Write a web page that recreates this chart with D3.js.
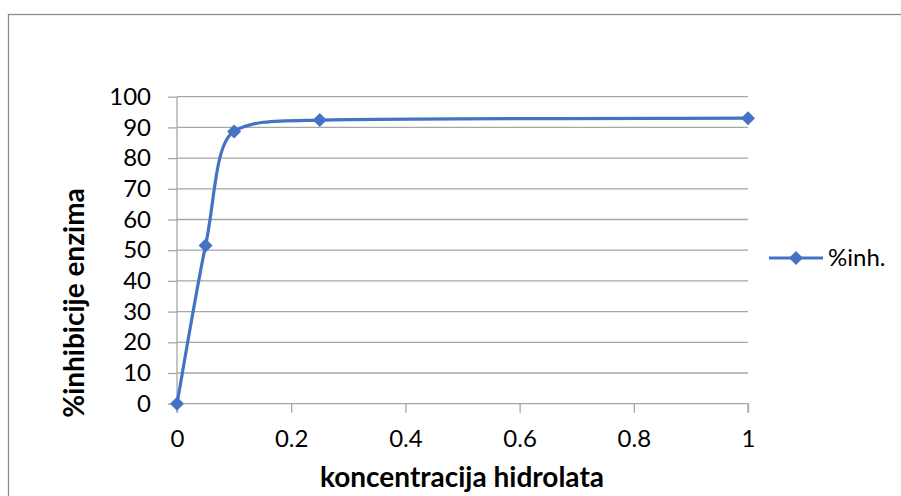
<!DOCTYPE html>
<html><head><meta charset="utf-8">
<script src="https://cdn.jsdelivr.net/npm/d3@7/dist/d3.min.js"></script>
<style>
html,body{margin:0;padding:0;background:#fff;}
svg{display:block;}
text{font-family:Lato,"Open Sans",sans-serif;fill:#000;}
</style></head>
<body>
<svg id="chart" width="901" height="496"></svg>
<script>
// ---- data ----
const concentrations = [0, 0.05, 0.1, 0.25, 1];
const inhibition = [0, 51.5, 88.7, 92.4, 93.0];
const xTicks = [0, 0.2, 0.4, 0.6, 0.8, 1];
const yTicks = [0, 10, 20, 30, 40, 50, 60, 70, 80, 90, 100];
const seriesName = "%inh.";
const xTitle = "koncentracija hidrolata";
const yTitle = "%inhibicije enzima";

const svg = d3.select("#chart");
const W = 901, H = 496;
const plot = {left: 177, right: 748, top: 96.7, bottom: 403.7};
const lineColor = "#4472C4";
const gridColor = "#A6A6A6";
const tickFont = 24, titleFont = 28;

// outer chart border
svg.append("rect").attr("x", 8.5).attr("y", 14.5).attr("width", W).attr("height", H)
  .attr("fill", "none").attr("stroke", "#8C8C8C").attr("stroke-width", 1.3);

const x = d3.scaleLinear().domain([0, 1]).range([plot.left, plot.right]);
const y = d3.scaleLinear().domain([0, 100]).range([plot.bottom, plot.top]);

// gridlines
svg.append("g").selectAll("line").data(yTicks.filter(d => d > 0)).join("line")
  .attr("x1", plot.left).attr("x2", plot.right)
  .attr("y1", d => y(d)).attr("y2", d => y(d))
  .attr("stroke", gridColor).attr("stroke-width", 1.3);

// axes
const yAxis = svg.append("g").attr("transform", `translate(${plot.left},0)`)
  .call(d3.axisLeft(y).tickValues(yTicks).tickSize(9).tickPadding(17).tickFormat(d3.format("d")));
const xAxis = svg.append("g").attr("transform", `translate(0,${plot.bottom})`)
  .call(d3.axisBottom(x).tickValues(xTicks).tickSize(9).tickPadding(17).tickFormat(d => String(d)));
[yAxis, xAxis].forEach(g => {
  g.select(".domain").attr("stroke", gridColor).attr("stroke-width", 1.3);
  g.selectAll(".tick line").attr("stroke", gridColor).attr("stroke-width", 1.3);
  g.selectAll("text").attr("font-family", "Lato, sans-serif").attr("font-size", tickFont).attr("fill", "#000");
});
xAxis.select(".domain").attr("d", `M${plot.left},9V0H${plot.right}V9`);
yAxis.select(".domain").attr("d", `M0,${plot.bottom}V${plot.top}`);

// Excel-like smoothed curve (Bezier, 1/6 tangents, arm limits, no vertical overshoot)
function ExcelCurve(context) { this._context = context; }
ExcelCurve.prototype = {
  areaStart() {}, areaEnd() {},
  lineStart() { this._pts = []; },
  point(px, py) { this._pts.push([+px, +py]); },
  lineEnd() {
    const p = this._pts, n = p.length, c = this._context;
    if (!n) return;
    const dist = (a, b) => Math.hypot(b[0] - a[0], b[1] - a[1]);
    const T = p.map((_, i) => {
      const a = p[i - 1] || p[i], b = p[i + 1] || p[i];
      return [b[0] - a[0], b[1] - a[1]];
    });
    const F1 = [], F2 = [];
    for (let i = 0; i < n - 1; i++) {
      const P0 = p[i - 1] || p[i], P1 = p[i], P2 = p[i + 1], P3 = p[i + 2] || p[i + 1];
      const d12 = dist(P1, P2), d02 = dist(P0, P2), d13 = dist(P1, P3);
      F1[i] = (d02 / 6 >= d12 / 2) ? d12 / (2 * d02) : 1 / 6;
      F2[i] = (d13 / 6 >= d12 / 2) ? d12 / (2 * d13) : 1 / 6;
    }
    // limit vertical component so control points stay within each segment's y-range
    for (let i = 0; i < n; i++) {
      let s = 1;
      if (i < n - 1) {
        const arm = Math.abs(F1[i] * T[i][1]), lim = Math.abs(p[i + 1][1] - p[i][1]);
        if (arm > lim && arm > 0) s = Math.min(s, lim / arm);
      }
      if (i > 0) {
        const arm = Math.abs(F2[i - 1] * T[i][1]), lim = Math.abs(p[i][1] - p[i - 1][1]);
        if (arm > lim && arm > 0) s = Math.min(s, lim / arm);
      }
      T[i][1] *= s;
    }
    c.moveTo(p[0][0], p[0][1]);
    for (let i = 0; i < n - 1; i++) {
      const P1 = p[i], P2 = p[i + 1];
      c.bezierCurveTo(P1[0] + F1[i] * T[i][0], P1[1] + F1[i] * T[i][1],
                      P2[0] - F2[i] * T[i + 1][0], P2[1] - F2[i] * T[i + 1][1],
                      P2[0], P2[1]);
    }
  }
};
const excelCurve = ctx => new ExcelCurve(ctx);

const data = concentrations.map((c, i) => ({x: c, y: inhibition[i]}));
const line = d3.line().x(d => x(d.x)).y(d => y(d.y)).curve(excelCurve);
svg.append("path").datum(data).attr("d", line)
  .attr("fill", "none").attr("stroke", lineColor).attr("stroke-width", 3.2)
  .attr("stroke-linejoin", "round");

const diamond = d3.symbol().type(d3.symbolSquare).size(98);
svg.append("g").selectAll("path").data(data).join("path")
  .attr("d", diamond)
  .attr("transform", d => `translate(${x(d.x)},${y(d.y)}) rotate(45)`)
  .attr("fill", lineColor);

// axis titles
svg.append("text").attr("x", 462).attr("y", 487).attr("text-anchor", "middle")
  .attr("font-weight", "bold").attr("font-size", titleFont).text(xTitle);
svg.append("text").attr("transform", "translate(84,303) rotate(-90)").attr("text-anchor", "middle")
  .attr("font-weight", "bold").attr("font-size", titleFont).text(yTitle);

// legend
const lg = svg.append("g").attr("transform", "translate(769,258)");
lg.append("line").attr("x1", 0).attr("x2", 54).attr("y1", 0).attr("y2", 0)
  .attr("stroke", lineColor).attr("stroke-width", 3.2);
lg.append("path").attr("d", diamond).attr("transform", "translate(27,0) rotate(45)").attr("fill", lineColor);
lg.append("text").attr("x", 59).attr("y", 0).attr("dy", "0.35em").attr("font-size", tickFont).text(seriesName);
</script>
</body></html>
